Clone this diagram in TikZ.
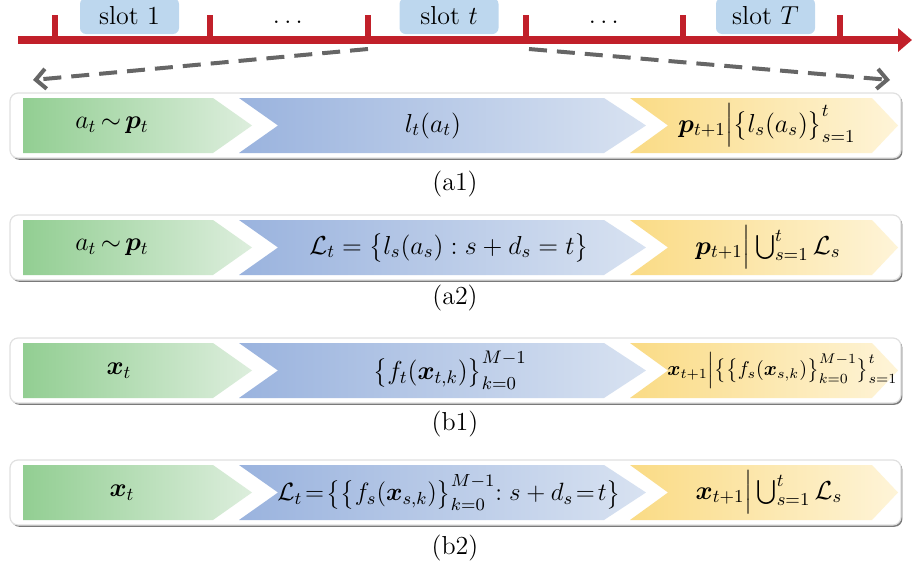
\documentclass[tikz,border=0pt]{standalone}
\usepackage{fix-cm}
\usepackage{amsmath,bm}
\usetikzlibrary{arrows.meta,shadows}
\definecolor{tlred}{HTML}{C1202A}
\definecolor{slotblue}{HTML}{BDD7EE}
\definecolor{gL}{HTML}{92CE92}
\definecolor{gR}{HTML}{DDEEDD}
\definecolor{bL}{HTML}{9AB3DE}
\definecolor{bR}{HTML}{D8E2F1}
\definecolor{yL}{HTML}{FADB85}
\definecolor{yR}{HTML}{FEF4D8}
\definecolor{dgray}{HTML}{666666}
\tikzset{
  txt/.style={font=\fontsize{13}{15.6}\selectfont, inner sep=0pt},
  slotbox/.style={txt, fill=slotblue, rounded corners=3pt, minimum width=49.5pt, minimum height=18pt},
  tick/.style={tlred, line width=3pt},
  dasharrow/.style={dgray, line width=2pt, dash pattern=on 9pt off 5pt, -{Straight Barb[length=5pt,width=10pt]}},
  panelbox/.style={fill=white, draw=black!12, line width=0.6pt, rounded corners=4pt,
    minimum width=445.5pt, minimum height=32.5pt, inner sep=0pt,
    drop shadow={shadow xshift=0.7pt, shadow yshift=-0.9pt, fill=black!65, opacity=0.8}},
  sublabel/.style={txt}
}
\begin{document}
\begin{tikzpicture}[x=0.5pt,y=-0.5pt]
\useasboundingbox (0,0) rectangle (912,568);

% ---------- timeline ----------
\node[slotbox] (s1) at (129.5,16) {slot 1};
\node[slotbox] (st) at (449,16) {slot $t$};
\node[slotbox] (sT) at (765.5,16) {slot $T$};
\node[txt] (d1) at (290,22) {$\dots$};
\node[txt] (d2) at (606,22) {$\dots$};

\coordinate (tlstart) at (18,40);
\coordinate (tlend) at (912,40);
\draw[tlred, line width=4pt, -{Triangle[length=7pt,width=11.5pt]}] (tlstart) -- (tlend);
\foreach \i/\x in {1/55,2/210,3/368,4/526,5/683,6/840}{
  \coordinate (tk\i) at (\x,40);
  \draw[tick] (tk\i) -- ++(0,-25);
}
\coordinate (dl0) at (368,49);
\coordinate (dl1) at (33,80);
\coordinate (dr0) at (529,49);
\coordinate (dr1) at (890,80);
\draw[dasharrow] (dl0) -- (dl1);
\draw[dasharrow] (dr0) -- (dr1);

% ---------- panels ----------
\foreach \nm/\t in {A1/98,A2/220,B1/343,B2/465}{
  \pgfmathsetmacro{\b}{\t+55}
  \pgfmathsetmacro{\m}{\t+27.5}
  \node[panelbox] (box\nm) at (455.5,\m) {};
  \shade[left color=gL, right color=gR]
    (23,\t) -- (213,\t) -- (252,\m) -- (213,\b) -- (23,\b) -- cycle;
  \shade[left color=bL, right color=bR]
    (239,\t) -- (604,\t) -- (646,\m) -- (604,\b) -- (239,\b) -- (278,\m) -- cycle;
  \shade[left color=yL, right color=yR]
    (630,\t) -- (872,\t) -- (898,\m) -- (872,\b) -- (630,\b) -- (668,\m) -- cycle;
}

% (a1)
\node[txt] (a1g) at (112,125.5) {$a_t\mkern-2mu\sim\mkern-2mu\bm{p}_t$};
\node[txt] (a1b) at (433,125.5) {$l_t(a_t)$};
\node[txt] (a1y) at (767,125.5) {$\bm{p}_{t+1}\Big|\big\{l_s(a_s)\big\}_{s=1}^{t}$};
\node[sublabel] (la1) at (455,184) {(a1)};

% (a2)
\node[txt] (a2g) at (112,247.5) {$a_t\mkern-2mu\sim\mkern-2mu\bm{p}_t$};
\node[txt] (a2b) at (449,247.5) {$\mathcal{L}_t = \big\{ l_s(a_s) : s + d_s = t \big\}$};
\node[txt] (a2y) at (768,247.5) {$\bm{p}_{t+1}\Big|\textstyle\bigcup_{s=1}^{t}\mathcal{L}_s$};
\node[sublabel] (la2) at (455,298) {(a2)};

% (b1)
\node[txt] (b1g) at (119,370.5) {$\bm{x}_t$};
\node[txt] (b1b) at (450,370.5) {$\big\{ f_t(\bm{x}_{t,k}) \big\}_{k=0}^{M-1}$};
\node[txt, anchor=west, font=\fontsize{10}{12}\selectfont] (b1y) at (667,370.5)
  {$\bm{x}_{t+1}\Big|\big\{\big\{f_s(\bm{x}_{s,k})\big\}_{k=0}^{M-1}\big\}_{s=1}^{t}$};
\node[sublabel] (lb1) at (455,424) {(b1)};

% (b2)
\node[txt] (b2g) at (122,492.5) {$\bm{x}_t$};
\node[txt, font=\fontsize{12.5}{15}\selectfont] (b2b) at (449,492.5) {$\mathcal{L}_t\!=\!\big\{\big\{f_s(\bm{x}_{s,k})\big\}_{k=0}^{M-1}{:}\;s+d_s\!=\!t\big\}$};
\node[txt] (b2y) at (769,492.5) {$\bm{x}_{t+1}\Big|\textstyle\bigcup_{s=1}^{t}\mathcal{L}_s$};
\node[sublabel] (lb2) at (455,548) {(b2)};
\end{tikzpicture}
\end{document}
